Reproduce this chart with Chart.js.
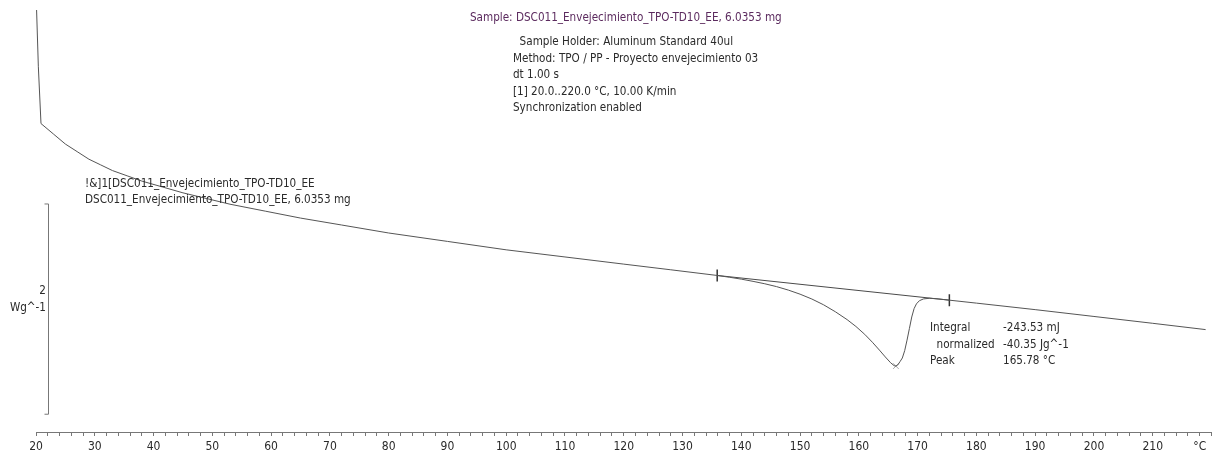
<!DOCTYPE html>
<html>
<head>
<meta charset="utf-8">
<script src="https://cdn.jsdelivr.net/npm/chart.js@4.4.1/dist/chart.umd.min.js"></script>
<style>
  html, body { margin: 0; padding: 0; background: #fff; }
  #wrap { width: 1219px; height: 457px; position: relative; }
</style>
</head>
<body>
<div id="wrap"><canvas id="myChart"></canvas></div>
<script>
// Curva DSC (temperatura en °C, flujo de calor en W/g, endo hacia abajo)
const temperatura = [20.1, 20.4, 20.85, 23, 25, 27, 29, 31, 33, 35.5, 38, 41.5, 45, 49, 53, 59,
    65, 72, 80, 90, 100, 110, 120, 128, 135.9,
    138, 140, 142, 144, 146, 148, 150, 152, 154, 156, 158, 159.5, 161, 162.3, 163.5, 164.5, 165.4, 166.0,
    166.3, 166.6, 167.0, 167.4, 167.8, 168.2, 168.6, 169.0, 169.4, 169.8, 170.3, 171.0, 172.0, 173.5,
    175.4, 180, 190, 200, 210, 219];
const flujoCalor = [2.78, 2.24, 1.70, 1.599, 1.505, 1.433, 1.361, 1.307, 1.253, 1.203, 1.153, 1.097, 1.041,
    0.987, 0.933, 0.867, 0.801, 0.735, 0.659, 0.579, 0.499, 0.431, 0.363, 0.309, 0.255,
    0.238, 0.22, 0.199, 0.176, 0.149, 0.116, 0.077, 0.031, -0.024, -0.09, -0.165, -0.23, -0.305, -0.38,
    -0.455, -0.52, -0.575, -0.603, -0.607, -0.598, -0.565, -0.53, -0.46, -0.36, -0.25, -0.14, -0.06, -0.015,
    0.015, 0.032, 0.038, 0.032, 0.02, -0.008, -0.07, -0.135, -0.2, -0.26];

// Linea base de integracion (limites)
const limitesT = [135.9, 175.4];
const limitesV = [0.255, 0.02];

// Pico
const picoT = [166.3];
const picoV = [-0.607];

// Eje X
const xTicks = [20, 30, 40, 50, 60, 70, 80, 90, 100, 110, 120, 130, 140, 150, 160, 170, 180, 190, 200, 210];
const xUnidad = '°C';
const xUnidadPos = 218;

// Barra de escala Y
const escalaValor = 2;          // Wg^-1
const escalaBase = -1.065;

const sampleLinea = 'Sample: DSC011_Envejecimiento_TPO-TD10_EE, 6.0353 mg';
const infoLineas = [
    '  Sample Holder: Aluminum Standard 40ul',
    'Method: TPO / PP - Proyecto envejecimiento 03',
    'dt 1.00 s',
    '[1] 20.0..220.0 °C, 10.00 K/min',
    'Synchronization enabled'
];
const curvaEtiqueta = ['!&]1[DSC011_Envejecimiento_TPO-TD10_EE', 'DSC011_Envejecimiento_TPO-TD10_EE, 6.0353 mg'];
const resultNombres = ['Integral', '  normalized', 'Peak'];
const resultValores = ['-243.53 mJ', '-40.35 Jg^-1', '165.78 °C'];

const FONT = '"DejaVu Sans Condensed", "DejaVu Sans", sans-serif';

function puntos(xs, ys) {
    return xs.map(function(x, i) { return { x: x, y: ys[i] }; });
}

// Textos y barra de escala
const anotaciones = {
    id: 'anotaciones',
    afterDraw(chart) {
        const c = chart.ctx;
        const ys = chart.scales.y;
        c.save();
        c.font = '11.6px ' + FONT;
        c.textBaseline = 'middle';
        c.textAlign = 'left';

        c.fillStyle = '#5b2a5e';
        c.fillText(sampleLinea, 470, 18);
        c.fillStyle = '#2a2a2a';
        infoLineas.forEach(function(t, i) {
            c.fillText(t, 513, 42 + i * 16.6);
        });

        curvaEtiqueta.forEach(function(t, i) {
            c.fillText(t, 85, 184 + i * 16);
        });

        resultNombres.forEach(function(t, i) {
            c.fillText(t, 930, 328 + i * 16.5);
            c.fillText(resultValores[i], 1003, 328 + i * 16.5);
        });

        // barra de escala
        const yTop = ys.getPixelForValue(escalaBase + escalaValor);
        const yBot = ys.getPixelForValue(escalaBase);
        const xb = 48.5;
        c.strokeStyle = '#777';
        c.lineWidth = 1;
        c.beginPath();
        c.moveTo(xb - 4, yTop);
        c.lineTo(xb, yTop);
        c.lineTo(xb, yBot);
        c.lineTo(xb - 4, yBot);
        c.stroke();

        c.textAlign = 'right';
        c.fillText(String(escalaValor), 46, 291);
        c.fillText('Wg^-1', 46, 308);
        c.restore();
    }
};

const ctx = document.getElementById('myChart').getContext('2d');
const myChart = new Chart(ctx, {
    type: 'line',
    data: {
        datasets: [
            {
                label: 'DSC',
                data: puntos(temperatura, flujoCalor),
                borderColor: '#555',
                borderWidth: 1,
                pointRadius: 0,
                tension: 0,
                fill: false
            },
            {
                label: 'Baseline',
                data: puntos(limitesT, limitesV),
                borderColor: '#4a4a4a',
                borderWidth: 1,
                pointStyle: 'line',
                rotation: 90,
                pointRadius: 6,
                pointBorderColor: '#333',
                pointBorderWidth: 1.5,
                fill: false
            },
            {
                label: 'Pico',
                data: puntos(picoT, picoV),
                showLine: false,
                pointStyle: 'crossRot',
                pointRadius: 4,
                pointBorderColor: '#aaa',
                pointBorderWidth: 1
            }
        ]
    },
    options: {
        responsive: true,
        maintainAspectRatio: false,
        animation: false,
        events: [],
        layout: { padding: { left: 36, right: 0, top: 0, bottom: 4 } },
        plugins: {
            legend: { display: false },
            tooltip: { enabled: false }
        },
        scales: {
            x: {
                type: 'linear',
                min: 20,
                max: 220,
                afterFit: function(scale) { scale.height = 21; },
                border: { display: true, color: '#777', width: 1 },
                grid: { display: true, drawOnChartArea: false, tickLength: 4, color: '#777' },
                ticks: {
                    stepSize: 2,
                    autoSkip: false,
                    maxRotation: 0,
                    padding: 5,
                    color: '#2a2a2a',
                    font: { family: FONT, size: 12, lineHeight: 1.0 },
                    callback: function(v) {
                        if (xTicks.indexOf(v) >= 0) return String(v);
                        if (v === xUnidadPos) return xUnidad;
                        return '';
                    }
                }
            },
            y: {
                display: false,
                min: -1.234,
                max: 2.804
            }
        }
    },
    plugins: [anotaciones]
});
</script>
</body>
</html>
